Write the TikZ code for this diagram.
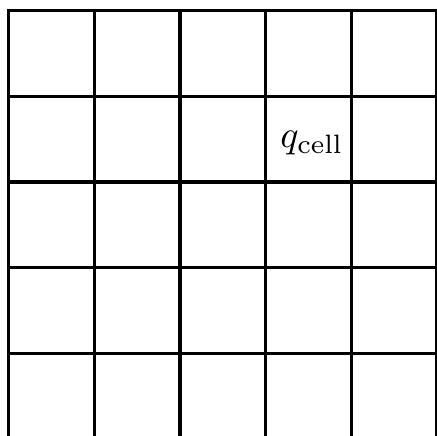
\documentclass[tikz,border=0pt]{standalone}
\tikzset{
  gridline/.style={draw=black, line width=3.2pt},
  celllabel/.style={scale=3.8, transform shape, inner sep=0pt},
}
\begin{document}
\begin{tikzpicture}[x=1pt, y=-1pt]
  \useasboundingbox (0,0) rectangle (437,436);
  % grid: vertical lines run off the bottom edge
  \foreach \x in {8.5,94.2,179.9,265.6,351.3,437} \draw[gridline] (\x,9) -- (\x,437);
  \foreach \y in {10.5,96.2,181.9,267.6,353.3} \draw[gridline] (7,\y) -- (438,\y);
  % label in one cell
  \node[celllabel] (qcell) at (312,143) {$q_{\mathrm{cell}}$};
\end{tikzpicture}
\end{document}
